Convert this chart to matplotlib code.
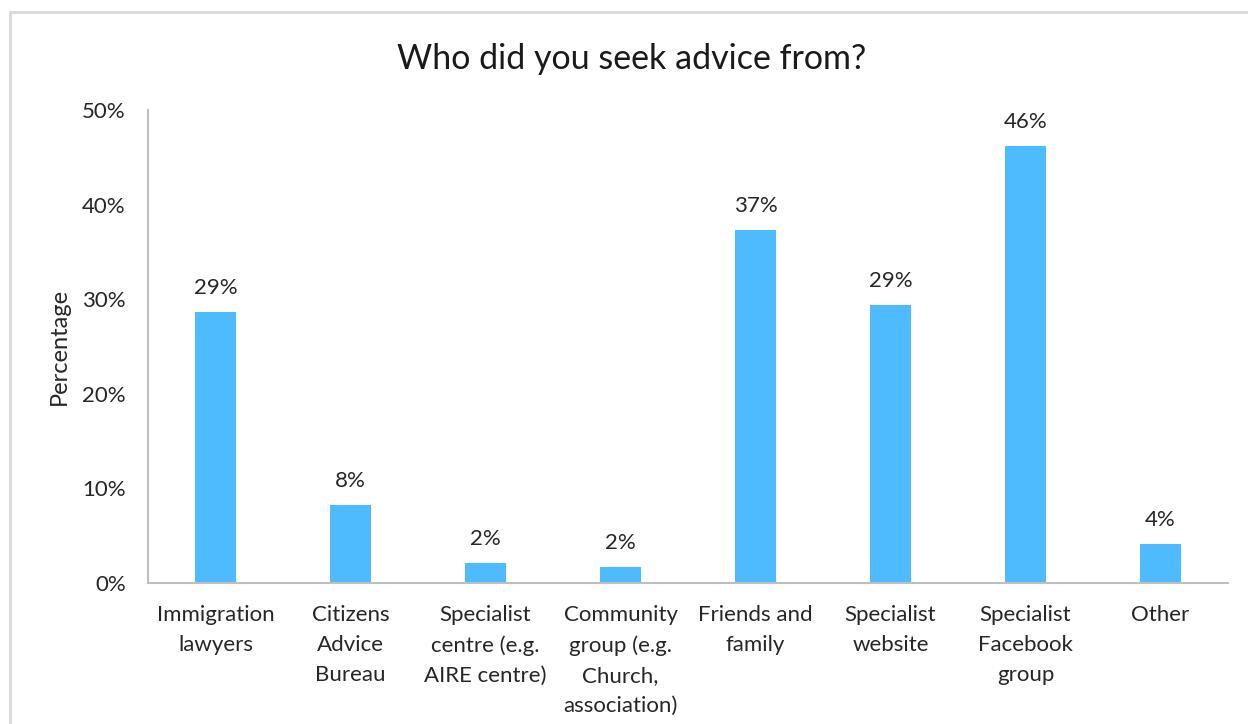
import matplotlib.pyplot as plt
from matplotlib.patches import Rectangle

plt.rcParams['font.family'] = ['Lato', 'DejaVu Sans']

# survey answers
sources = ['Immigration\nlawyers', 'Citizens\nAdvice\nBureau',
           'Specialist\ncentre (e.g.\nAIRE centre)',
           'Community\ngroup (e.g.\nChurch,\nassociation)',
           'Friends and\nfamily', 'Specialist\nwebsite',
           'Specialist\nFacebook\ngroup', 'Other']
# share of respondents (%)
shares = [28.6, 8.2, 2.1, 1.7, 37.3, 29.4, 46.2, 4.1]
yticks = [0, 10, 20, 30, 40, 50]

fig = plt.figure(figsize=(12.48, 7.24), dpi=100)
ax = fig.add_axes([0.1186, 0.1948, 0.8654, 0.6532])

# chart area border
fig.patches.append(Rectangle((10 / 1248, -0.1), 1.2, 0.1 + 1 - 12 / 724,
                             transform=fig.transFigure, fill=False,
                             edgecolor='#d9d9d9', linewidth=2))

x = range(len(sources))
bars = ax.bar(x, shares, width=0.31, color='#4fbbff')

for b, v in zip(bars, shares):
    ax.text(b.get_x() + b.get_width() / 2, v + 1.5, f'{v:.0f}%',
            ha='center', va='bottom', fontsize=16, color='#262626')

ax.set_xlim(-0.5, len(sources) - 0.5)
ax.set_ylim(0, 50)
ax.set_yticks(yticks)
ax.set_yticklabels([f'{t}%' for t in yticks])
ax.set_xticks(list(x))
ax.set_xticklabels(sources, linespacing=1.62)
ax.tick_params(axis='both', length=0, labelsize=16, colors='#262626')
ax.tick_params(axis='x', pad=16)
ax.tick_params(axis='y', pad=16)

for s in ['top', 'right']:
    ax.spines[s].set_visible(False)
for s in ['left', 'bottom']:
    ax.spines[s].set_color('#bfbfbf')
    ax.spines[s].set_linewidth(1.5)

ax.set_ylabel('Percentage', fontsize=17, color='#262626', labelpad=9)
fig.text(0.506, 0.919, 'Who did you seek advice from?', ha='center',
         va='center', fontsize=24.5, color='#1a1a1a')

fig.savefig('out.png', dpi=100, facecolor='white')
